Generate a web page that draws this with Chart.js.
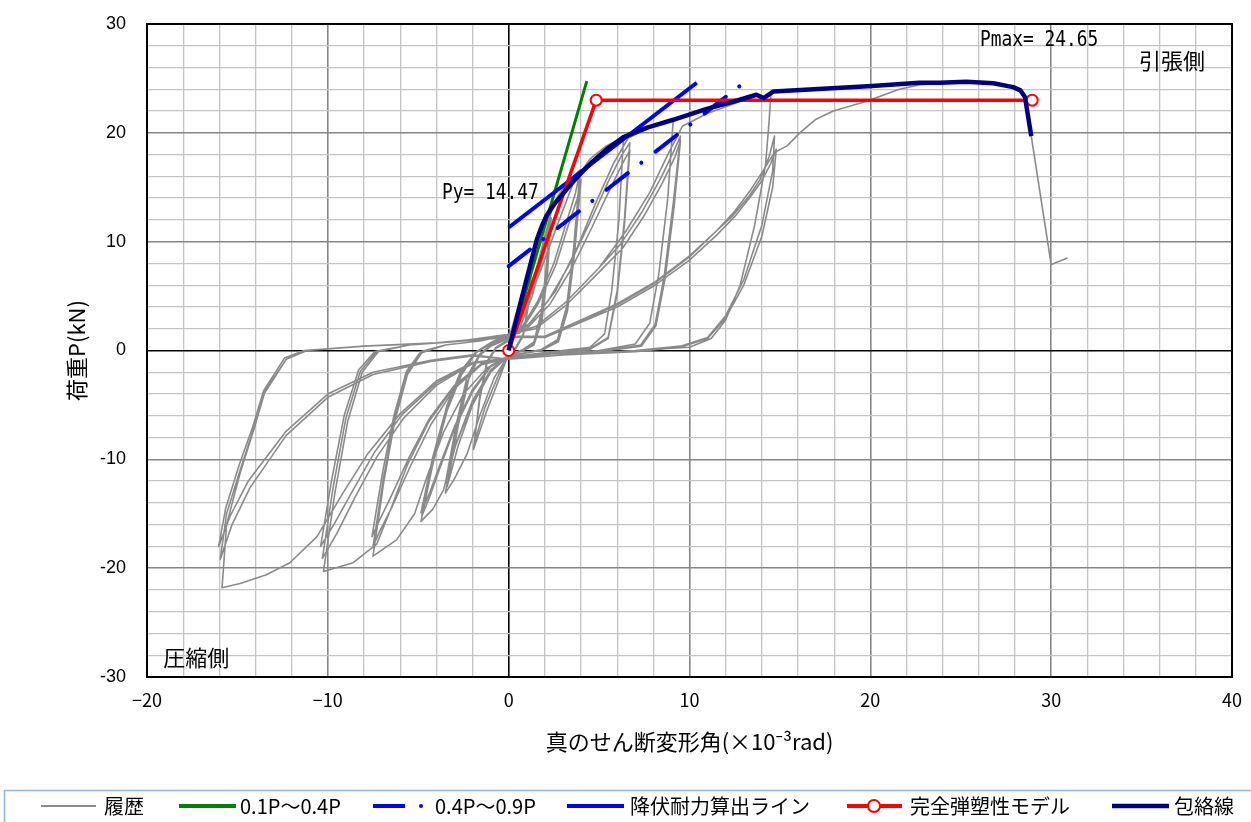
<!DOCTYPE html>
<html lang="ja">
<head>
<meta charset="utf-8">
<title>荷重-真のせん断変形角</title>
<script src="https://cdn.jsdelivr.net/npm/chart.js@4.4.1/dist/chart.umd.min.js"></script>
<style>
  html, body { margin: 0; padding: 0; background: #fff; }
  canvas { display: block; }
</style>
</head>
<body>
<canvas id="chart" width="1251" height="822"></canvas>
<script>
// axis labels
const xLabels = ['−20', '−10', '0', '10', '20', '30', '40'];
const yLabels = ['-30', '-20', '-10', '0', '10', '20', '30'];

// hysteresis as [rad x1e-3, kN]
const hys1 = [[0,0],[0.5,3.5],[1.0,6.5],[1.3,8.5],[1.1,4.5],[0.8,1.5],[0.4,0.3],[0,-0.3],[-0.5,-2.5],[-1.2,-5.5],[-1.95,-9.1],[-1.6,-4.5],[-1.2,-1.2],[-0.7,0.2],[0,0.9],
  [0.5,2.8],[1.0,5.8],[1.3,8.2],[1.1,4.2],[0.8,1.3],[0.4,0.2],[0,-0.3],[-0.6,-2.4],[-1.3,-5.2],[-1.9,-8.5],[-1.6,-4.2],[-1.2,-1.0],[-0.7,0.3],[0,1.0]];

const hys2 = [[0.6,4.5],[1.3,8.6],[1.8,11.2],[2.3,13.3],[2.1,8],[1.8,3.5],[1.4,0.8],[0.8,0.1],[0,-0.4],[-0.8,-2.5],[-1.6,-6],[-2.3,-9.5],[-3.0,-11.8],[-3.5,-13.1],[-2.9,-7.5],[-2.3,-3],[-1.7,-0.6],[-1.0,0.4],[0,1.1],
  [0.5,2.0],[1.2,5.0],[1.8,8.5],[2.3,12.5],[2.1,7.5],[1.8,3],[1.4,0.6],[0.7,0],[0,-0.4],[-1.0,-2.0],[-2.0,-5.0],[-2.8,-8.8],[-3.4,-12.5],[-2.8,-7],[-2.2,-2.6],[-1.6,-0.4],[-0.9,0.5],[0,1.2],
  [0.6,2.0],[1.3,5.0],[1.9,8.6],[2.35,12.2],[2.15,7.2],[1.85,2.8],[1.4,0.5],[0.7,-0.1],[0,-0.4],[-1.0,-1.8],[-2.0,-4.6],[-2.9,-8.5],[-3.5,-12.2],[-2.9,-6.8],[-2.3,-2.4],[-1.6,-0.3],[-0.9,0.6],[0,1.3]];

const hys3 = [[0.5,2.5],[1.3,6.0],[2.0,10.5],[2.5,13.6],[3.2,15.4],[3.95,16.6],[3.6,9.5],[3.2,4],[2.7,1.0],[1.8,0.1],[0,-0.5],[-1.0,-2.0],[-2.0,-4.8],[-3.0,-9.0],[-3.6,-12.8],[-4.2,-14.6],[-4.85,-15.7],[-4.2,-10.5],[-3.4,-5.5],[-2.6,-2.2],[-1.8,-0.2],[-0.9,0.7],[0,1.4],
  [0.6,1.8],[1.6,4.5],[2.5,8.0],[3.2,11.8],[3.7,14.5],[3.95,16.5],[3.6,9.2],[3.2,3.8],[2.7,0.9],[1.8,0],[0,-0.5],[-1.0,-1.5],[-2.0,-3.8],[-3.0,-7.2],[-3.8,-10.8],[-4.4,-13.6],[-4.8,-15.2],[-4.15,-10],[-3.35,-5.2],[-2.6,-2.0],[-1.8,-0.1],[-0.9,0.8],[0,1.4],
  [0.6,1.6],[1.6,4.2],[2.6,7.8],[3.3,11.5],[3.8,14.0],[4.0,15.7],[3.65,9],[3.25,3.6],[2.75,0.8],[1.8,0],[0,-0.5],[-1,-1.4],[-2,-3.6],[-3,-7.0],[-3.8,-10.5],[-4.4,-13.2],[-4.85,-14.9],[-4.2,-9.8],[-3.4,-5.0],[-2.65,-1.9],[-1.8,-0.1],[-0.9,0.8],[0,1.5]];

const hys4 = [[0.8,3.5],[1.8,7.5],[2.8,12],[3.6,15.5],[4.5,17.6],[5.4,18.8],[6.35,19.6],[6.1,12],[5.7,5.5],[5.3,1.5],[4.5,0.3],[2.5,-0.1],[0,-0.6],[-1.2,-1.6],[-2.5,-4.0],[-3.6,-7.5],[-4.5,-11.5],[-5.2,-15.0],[-6.2,-17.4],[-7.5,-18.9],[-6.9,-12],[-6.3,-6.5],[-5.6,-2.2],[-4.8,-0.2],[-3.5,0.5],[-1.5,0.9],[0,1.5],
  [1.0,2.2],[2.2,4.6],[3.4,8.0],[4.5,11.8],[5.5,15.5],[6.2,17.8],[6.7,19.1],[6.4,12],[6.0,5.5],[5.5,1.2],[4.5,0.2],[2.5,-0.2],[0,-0.6],[-1.5,-1.3],[-3,-3.5],[-4.3,-6.8],[-5.4,-10.5],[-6.4,-14.2],[-7.1,-16.5],[-7.5,-18.0],[-6.9,-11.5],[-6.3,-6.2],[-5.6,-2.0],[-4.8,-0.1],[-3.5,0.5],[-1.5,0.9],[0,1.5],
  [1.0,2.0],[2.3,4.3],[3.5,7.6],[4.6,11.3],[5.6,14.8],[6.3,17.2],[6.7,18.4],[6.4,11.5],[6.0,5.2],[5.5,1.1],[4.5,0.1],[2.5,-0.2],[0,-0.6],[-1.5,-1.2],[-3,-3.2],[-4.4,-6.3],[-5.5,-9.8],[-6.5,-13.4],[-7.2,-15.8],[-7.56,-17.1],[-6.95,-11],[-6.35,-6],[-5.65,-1.9],[-4.85,-0.1],[-3.5,0.5],[-1.5,0.9],[0,1.5]];

const hys5 = [[1.2,2.5],[2.6,5.5],[3.8,9.5],[4.8,13.5],[5.8,17.2],[6.6,19.5],[7.8,20.5],[9.1,21.2],[8.8,14],[8.3,7],[7.8,2.5],[7.0,0.6],[5,0],[2.5,-0.3],[0,-0.7],[-1.5,-1.3],[-3.0,-3.3],[-4.4,-6.5],[-5.6,-10.5],[-6.5,-14.5],[-7.3,-17.8],[-8.6,-19.5],[-10.24,-20.3],[-9.6,-13],[-8.9,-6.5],[-8.1,-2.0],[-7.2,-0.1],[-5.5,0.5],[-3,0.8],[0,1.5],
  [1.5,2.2],[3.2,4.5],[5.0,7.6],[6.2,9.8],[7.4,12.8],[8.4,15.8],[9.1,18.2],[9.5,19.7],[9.1,13.5],[8.6,6.8],[8.1,2.4],[7.3,0.5],[5,-0.1],[2.5,-0.3],[0,-0.7],[-2,-1.2],[-4,-3.2],[-5.8,-6.2],[-7.3,-9.8],[-8.5,-13.5],[-9.5,-16.8],[-10.3,-19.1],[-9.7,-12.5],[-9.0,-6.2],[-8.2,-1.9],[-7.3,-0.1],[-5.5,0.5],[-3,0.8],[0,1.5],
  [1.5,2.0],[3.2,4.2],[5.0,7.2],[6.3,9.4],[7.5,12.4],[8.5,15.4],[9.2,17.8],[9.5,19.3],[9.15,13.2],[8.65,6.6],[8.15,2.3],[7.35,0.4],[5,-0.1],[2.5,-0.3],[0,-0.7],[-2,-1.1],[-4,-3.0],[-5.9,-5.9],[-7.4,-9.3],[-8.6,-12.8],[-9.6,-15.8],[-10.4,-18.0],[-9.8,-12],[-9.1,-6],[-8.3,-1.8],[-7.4,-0.1],[-5.5,0.5],[-3,0.8],[0,1.4]];

const hys6 = [[1.5,2.2],[3.2,4.5],[5.0,7.6],[6.5,11],[7.8,14.5],[8.8,18],[9.6,20.6],[11,21.8],[12.5,22.7],[13.7,23.5],[14.1,23.2],[14.5,23.6],[14.4,21],[14.2,17],[13.6,11.5],[12.8,6],[12,2.8],[11.2,1.1],[10,0.3],[7,0],[3,-0.4],[0,-0.8],
  [-2,-1.1],[-4,-2.8],[-6,-5.8],[-7.8,-9.5],[-9.2,-13.2],[-10.6,-17.1],[-12.1,-19.5],[-13.4,-20.6],[-14.85,-21.4],[-15.85,-21.8],[-15.6,-16],[-14.85,-11.25],[-14.1,-7.3],[-13.5,-3.9],[-12.3,-0.8],[-11.15,0],[-8,0.4],[-4,0.7],[0,1.3],
  [2,1.3],[4,2.8],[6,4.3],[8,6.2],[10,8.7],[11.5,11],[12.4,12.4],[13.3,14.2],[13.9,15.7],[14.4,17.8],[14.7,19.7],[14.6,16.5],[14.0,11.5],[13.0,6.5],[12,3.2],[11,1.2],[9.5,0.4],[7,0],[3,-0.4],[0,-0.8],
  [-2,-0.5],[-4.3,-1.0],[-7.5,-2.2],[-10,-4.3],[-12.3,-7.8],[-14.3,-12.6],[-15.3,-16],[-15.95,-19.2],[-15.6,-15],[-14.85,-11],[-14.1,-7.2],[-13.5,-3.8],[-12.3,-0.8],[-11.2,0],[-8,0.4],[-4,0.7],[0,1.2],
  [2,1.2],[4,2.6],[6,4.0],[8,5.9],[10,8.3],[11.5,10.6],[12.5,12.3],[13.4,14.2],[14.0,15.6],[14.5,17.2],[14.8,18.5],[14.6,15],[14.0,10.5],[13.0,6],[12,3],[11,1.1],[9.5,0.3],[7,-0.1],[3,-0.4],[0,-0.8],
  [-2,-0.4],[-4.3,-0.9],[-7.5,-2.0],[-10,-4.0],[-12.3,-7.4],[-14.4,-12],[-15.4,-15.2],[-16.04,-18.0],[-15.65,-14.5],[-14.9,-10.5],[-14.15,-7],[-13.55,-3.7],[-12.4,-0.7],[-11.3,0],[-8,0.4],[-4,0.7],[0,1.2]];

const hysFinal = [[2,1.3],[4,2.7],[6,4.2],[8,6.1],[10,8.6],[11.5,11],[12.5,12.8],[13.4,14.8],[14.1,16.6],[14.7,18.2],[15.4,18.8],[16.1,20.0],[17,21.25],[17.95,22.0],[19.8,22.9],[21.6,24.0],[22.7,24.4],[24,24.6],[25.3,24.65],[26.5,24.6],[27.5,24.4],[28.2,24.1],[28.6,23.3],[28.9,19.7],[30.0,7.9],[30.9,8.5]];

// evaluation lines
const line01to04 = [[0,0],[4.32,24.75]];
const line04to09 = [[0,7.75],[12.85,24.4]];
const yieldLine = [[0,11.3],[10.4,24.6]];
const bilinear = [[0,0],[4.84,23.0],[28.95,23.0]];
const envelope = [[0,0],[0.3,2.0],[0.6,4.0],[0.95,6.3],[1.28,8.4],[1.56,10.2],[1.85,11.5],[2.1,12.4],[2.5,13.4],[2.95,14.3],[3.45,15.3],[3.95,16.2],[4.6,17.3],[5.43,18.5],[6.35,19.6],[7.7,20.5],[9.1,21.2],[10.95,22.2],[12.5,22.9],[13.7,23.5],[14.1,23.2],[14.65,23.8],[20.1,24.3],[22.7,24.6],[23.85,24.6],[25.3,24.7],[26.8,24.55],[27.9,24.2],[28.3,23.9],[28.55,23.3],[28.9,19.7]];

const hysteresis = [].concat(hys1, hys2, hys3, hys4, hys5, hys6, hysFinal);

// text notes placed in data units
const notes = [
  { text: 'Py= 14.47', x: -3.68, y: 13.9, mono: true },
  { text: 'Pmax= 24.65', x: 26.06, y: 28.0, mono: true },
  { text: '引張側', x: 34.86, y: 26.6 },
  { text: '圧縮側', x: -19.1, y: -28.25 }
];

const CJK = '"Noto Sans CJK JP", "Noto Sans", sans-serif';

function toXY(pairs) {
  return pairs.map(p => ({ x: p[0], y: p[1] }));
}

function gridColor(ctx) {
  const v = ctx.tick ? ctx.tick.value : 1;
  if (v === 0) return '#000000';
  return v % 10 === 0 ? '#868686' : '#c4c4c4';
}

function gridWidth(ctx) {
  const v = ctx.tick ? ctx.tick.value : 1;
  if (v === 0) return 1.6;
  return v % 10 === 0 ? 1.6 : 1.3;
}

function drawNotes(chart) {
  const ctx = chart.ctx;
  const sx = chart.scales.x, sy = chart.scales.y;
  notes.forEach(n => {
    const px = sx.getPixelForValue(n.x);
    const py = sy.getPixelForValue(n.y);
    ctx.save();
    ctx.fillStyle = '#000';
    ctx.translate(px, py);
    if (n.mono) {
      ctx.scale(0.85, 1);
      ctx.font = '21px "DejaVu Sans Mono", monospace';
      ctx.textBaseline = 'alphabetic';
    } else {
      ctx.font = '22px ' + CJK;
      ctx.textBaseline = 'middle';
    }
    ctx.fillText(n.text, 0, 0);
    ctx.restore();
  });
}

function drawLegend(chart) {
  const ctx = chart.ctx;
  const y = 806;
  ctx.save();
  ctx.strokeStyle = '#8eb4e3';
  ctx.lineWidth = 1.5;
  ctx.strokeRect(4.5, 790.5, 1300, 100);

  function seg(x1, x2, color, w) {
    ctx.beginPath();
    ctx.strokeStyle = color;
    ctx.lineWidth = w;
    ctx.moveTo(x1, y);
    ctx.lineTo(x2, y);
    ctx.stroke();
  }
  function label(text, x) {
    ctx.fillStyle = '#000';
    ctx.font = '20px ' + CJK;
    ctx.textBaseline = 'middle';
    ctx.fillText(text, x, y);
  }

  seg(41, 96, '#8a8a8a', 2);
  label('履歴', 104);

  seg(179, 236, '#008000', 4);
  label('0.1P～0.4P', 240);

  seg(373, 405, '#0000ff', 4);
  ctx.beginPath();
  ctx.fillStyle = '#0000ff';
  ctx.arc(421, y, 2, 0, Math.PI * 2);
  ctx.fill();
  label('0.4P～0.9P', 435);

  seg(567, 624, '#0000ff', 4);
  label('降伏耐力算出ライン', 630);

  seg(847, 902, '#ff0000', 4);
  ctx.beginPath();
  ctx.fillStyle = '#fff';
  ctx.strokeStyle = '#ff0000';
  ctx.lineWidth = 2;
  ctx.arc(874, y, 6, 0, Math.PI * 2);
  ctx.fill();
  ctx.stroke();
  label('完全弾塑性モデル', 910);

  seg(1112, 1169, '#000080', 4.5);
  label('包絡線', 1174);
  ctx.restore();
}

const decor = {
  id: 'decor',
  beforeDraw(chart) {
    const ctx = chart.ctx;
    ctx.save();
    ctx.fillStyle = '#fff';
    ctx.fillRect(0, 0, chart.width, chart.height);
    ctx.restore();
  },
  afterDatasetsDraw(chart) {
    const { ctx, chartArea: a } = chart;
    ctx.save();
    ctx.strokeStyle = '#000';
    ctx.lineWidth = 2;
    ctx.strokeRect(a.left, a.top, a.right - a.left, a.bottom - a.top);
    ctx.restore();
  },
  afterDraw(chart) {
    drawNotes(chart);
    drawLegend(chart);
  }
};

function lineSet(label, pairs, color, width, order, extra) {
  return Object.assign({
    label: label,
    data: toXY(pairs),
    showLine: true,
    borderColor: color,
    backgroundColor: color,
    borderWidth: width,
    pointRadius: 0,
    pointHoverRadius: 0,
    borderJoinStyle: 'round',
    tension: 0,
    order: order
  }, extra || {});
}

new Chart(document.getElementById('chart'), {
  type: 'scatter',
  data: {
    datasets: [
      lineSet('履歴', hysteresis, '#8a8a8a', 1.6, 6),
      lineSet('0.1P～0.4P', line01to04, '#008000', 3, 5),
      lineSet('0.4P～0.9P', line04to09, '#0000ff', 4, 4, { borderDash: [27, 17, 0.1, 18], borderCapStyle: 'round' }),
      lineSet('降伏耐力算出ライン', yieldLine, '#0000ff', 4, 3),
      lineSet('完全弾塑性モデル', bilinear, '#ff0000', 3.5, 2, {
        pointRadius: 5.5, pointBackgroundColor: '#ffffff', pointBorderColor: '#ff0000', pointBorderWidth: 2
      }),
      lineSet('包絡線', envelope, '#000080', 4.5, 1)
    ]
  },
  options: {
    responsive: false,
    devicePixelRatio: 1,
    animation: false,
    layout: { padding: { left: 0, right: 19, top: 24, bottom: 0 } },
    plugins: {
      legend: { display: false },
      tooltip: { enabled: false }
    },
    scales: {
      x: {
        type: 'linear',
        min: -20,
        max: 40,
        afterFit: s => {
          s.height = 145;
          s.paddingLeft = 0;
          s.paddingRight = 0;
        },
        border: { display: true, color: '#000', width: 2 },
        grid: { color: gridColor, lineWidth: gridWidth, drawTicks: false },
        ticks: {
          stepSize: 2,
          autoSkip: false,
          maxRotation: 0,
          padding: 12,
          color: '#000',
          font: { family: CJK, size: 18 },
          callback: v => (v % 10 === 0 ? xLabels[(v + 20) / 10] : '')
        },
        title: {
          display: true,
          text: '真のせん断変形角(×10⁻³rad)',
          color: '#000',
          font: { family: CJK, size: 22 },
          padding: { top: 0, bottom: 67 }
        }
      },
      y: {
        type: 'linear',
        min: -30,
        max: 30,
        afterFit: s => {
          s.width = 147;
          s.paddingTop = 0;
          s.paddingBottom = 0;
        },
        border: { display: true, color: '#000', width: 2 },
        grid: { color: gridColor, lineWidth: gridWidth, drawTicks: false },
        ticks: {
          stepSize: 2,
          autoSkip: false,
          padding: 21,
          color: '#000',
          font: { family: '"Liberation Sans", Arial, sans-serif', size: 18 },
          callback: v => (v % 10 === 0 ? yLabels[(v + 30) / 10] : '')
        },
        title: {
          display: true,
          text: '荷重P(kN)',
          color: '#000',
          font: { family: CJK, size: 22 },
          padding: { top: 63, bottom: 0 }
        }
      }
    }
  },
  plugins: [decor]
});
</script>
</body>
</html>
